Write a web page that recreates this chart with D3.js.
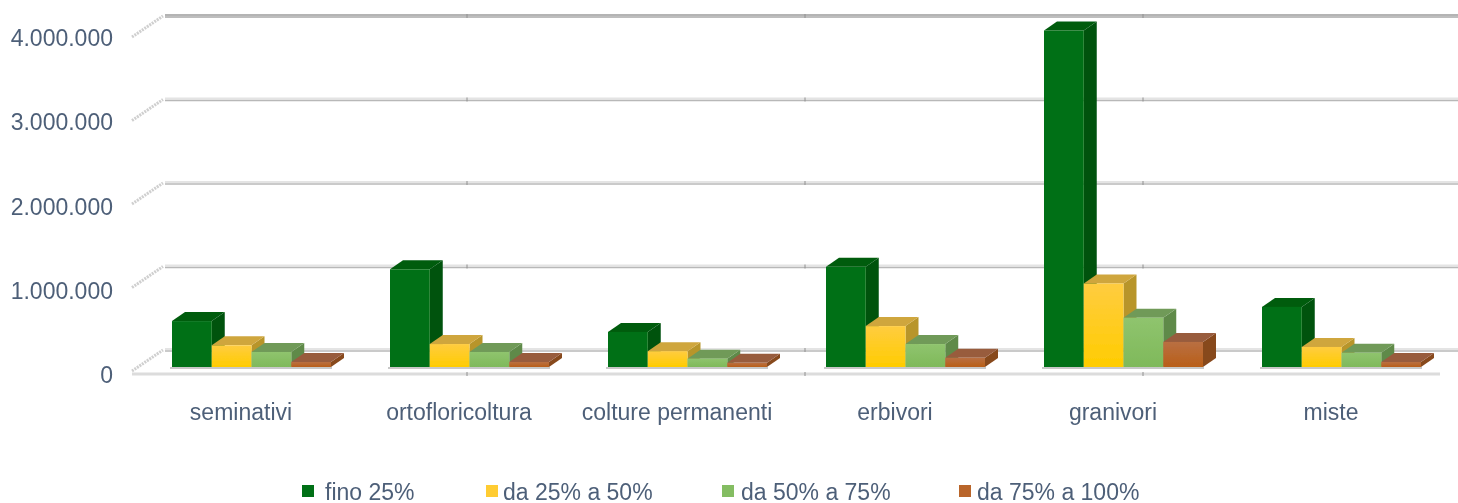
<!DOCTYPE html>
<html>
<head>
<meta charset="utf-8">
<script src="https://cdn.jsdelivr.net/npm/d3@7"></script>
<style>
  html, body { margin: 0; padding: 0; background: #fff; }
  text { font-family: "Liberation Sans", Arial, sans-serif; fill: #4d5f78; }
</style>
</head>
<body>
<script>
const categories = ["seminativi", "ortofloricoltura", "colture permanenti", "erbivori", "granivori", "miste"];
const seriesNames = ["fino 25%", "da 25% a 50%", "da 50% a 75%", "da 75% a 100%"];
const fino25 = [550000, 1170000, 420000, 1200000, 4030000, 720000];
const da25a50 = [260000, 275000, 190000, 490000, 1000000, 240000];
const da50a75 = [180000, 180000, 100000, 275000, 590000, 170000];
const da75a100 = [60000, 60000, 50000, 110000, 300000, 60000];
const yTicks = [0, 1000000, 2000000, 3000000, 4000000];
const seriesValues = [fino25, da25a50, da50a75, da75a100];

const width = 1458;
const height = 503;

// front colours, top colours, side colours
const fronts = [["#006f14", "#006f14"], ["#ffcc40", "#ffcc00"], ["#8fc46e", "#7fb95a"], ["#b96f42", "#b95f18"]];
const tops = ["#005c0e", "#cfa63c", "#6f9a58", "#985c3e"];
const sides = ["#00520a", "#b8952c", "#5f8a4a", "#87481c"];

const depth = { x: 31, y: 21 };
const barDepth = { x: 13, y: 9 };
const floorY = 367;

const svg = d3.select("body").append("svg").attr("width", width).attr("height", height).style("display", "block");

const defs = svg.append("defs");
fronts.forEach((c, i) => {
  const g = defs.append("linearGradient").attr("id", `front${i}`).attr("x1", 0).attr("y1", 0).attr("x2", 0).attr("y2", 1);
  g.append("stop").attr("offset", "0%").attr("stop-color", c[0]);
  g.append("stop").attr("offset", "100%").attr("stop-color", c[1]);
});
const blur = defs.append("filter").attr("id", "soft").attr("x", "-5%").attr("y", "-5%").attr("width", "110%").attr("height", "110%");
blur.append("feGaussianBlur").attr("stdDeviation", 0.7);
const textBlur = defs.append("filter").attr("id", "softText").attr("x", "-5%").attr("y", "-5%").attr("width", "110%").attr("height", "110%");
textBlur.append("feGaussianBlur").attr("stdDeviation", 0.35);

const xScale = d3.scaleBand().domain(categories).range([132, 1440]);
const xSeries = d3.scaleBand().domain(seriesNames).range([0, 159]);
const yScale = d3.scaleLinear().domain([0, 4000000]).range([floorY, 33]);
// labels sit on the front plane, spaced a little wider than the wall
const yLabel = d3.scaleLinear().domain([0, 4000000]).range([383, 46]);

const grid = svg.append("g").attr("filter", "url(#soft)");

// Floor front edge
grid.append("line").attr("x1", 132).attr("x2", 1440).attr("y1", 374).attr("y2", 374)
  .attr("stroke", "#dcdcdc").attr("stroke-width", 3);

// Back wall gridlines and the slanted ticks
yTicks.forEach((t) => {
  const y = yScale(t) - 17;
  const top = t === 4000000;
  grid.append("line").attr("x1", 165).attr("x2", 1458).attr("y1", y - 1).attr("y2", y - 1)
    .attr("stroke", top ? "#b4b4b4" : "#e4e4e4").attr("stroke-width", 2);
  grid.append("line").attr("x1", 165).attr("x2", 1458).attr("y1", y + 1).attr("y2", y + 1)
    .attr("stroke", top ? "#a8a8a8" : "#b8b8b8").attr("stroke-width", 1.5);
  grid.append("line").attr("x1", 132).attr("x2", 163).attr("y1", y + depth.y).attr("y2", y)
    .attr("stroke", "#cfcfcf").attr("stroke-width", 3).attr("stroke-dasharray", "2 1");
});

// Small marks where the wall is divided
[467, 805, 1143].forEach((x) => {
  yTicks.forEach((t) => {
    const y = yScale(t) - 17;
    grid.append("line").attr("x1", x).attr("x2", x).attr("y1", y - 2).attr("y2", y + 2).attr("stroke", "#909090");
  });
  grid.append("line").attr("x1", x).attr("x2", x).attr("y1", 372).attr("y2", 376).attr("stroke", "#909090");
});

// Y labels
svg.append("g").attr("filter", "url(#softText)").selectAll("text").data(yTicks).join("text")
  .attr("x", 113)
  .attr("y", (d) => yLabel(d))
  .attr("text-anchor", "end")
  .attr("font-size", 23)
  .text((d) => d3.format(",")(d).replace(/,/g, "."));

// Bars, drawn back to front within each group
const bars = svg.append("g").attr("filter", "url(#soft)");
categories.forEach((cat, c) => {
  const x0 = xScale(cat) + 40;
  bars.append("rect").attr("x", x0 - 2).attr("y", floorY).attr("width", 162).attr("height", 2).attr("fill", "#c8c8c8");
  seriesValues.forEach((values, s) => {
    const x = x0 + xSeries(seriesNames[s]);
    const w = xSeries.bandwidth();
    const y = yScale(values[c]);
    const g = bars.append("g");
    g.append("path")
      .attr("d", `M${x + w},${y} L${x + w + barDepth.x},${y - barDepth.y} L${x + w + barDepth.x},${floorY - barDepth.y} L${x + w},${floorY} Z`)
      .attr("fill", sides[s]);
    g.append("path")
      .attr("d", `M${x},${y} L${x + barDepth.x},${y - barDepth.y} L${x + w + barDepth.x},${y - barDepth.y} L${x + w},${y} Z`)
      .attr("fill", tops[s]);
    g.append("rect").attr("x", x).attr("y", y).attr("width", w).attr("height", floorY - y)
      .attr("fill", `url(#front${s})`);
  });
});

// Category labels
svg.append("g").attr("filter", "url(#softText)").selectAll("text").data(categories).join("text")
  .attr("x", (d) => xScale(d) + xScale.bandwidth() / 2)
  .attr("y", 420)
  .attr("text-anchor", "middle")
  .attr("font-size", 23)
  .text((d) => d);

// Legend
const legendSwatch = [302, 486, 722, 959];
const legendText = [325, 503, 741, 977];
const swatchFill = ["#006f14", "#ffcc33", "#84bd62", "#b9652a"];
const legend = svg.append("g").attr("filter", "url(#softText)");
seriesNames.forEach((name, i) => {
  legend.append("rect").attr("x", legendSwatch[i]).attr("y", 485).attr("width", 12).attr("height", 12).attr("fill", swatchFill[i]);
  legend.append("text").attr("x", legendText[i]).attr("y", 500).attr("font-size", 23).text(name);
});
</script>
</body>
</html>
